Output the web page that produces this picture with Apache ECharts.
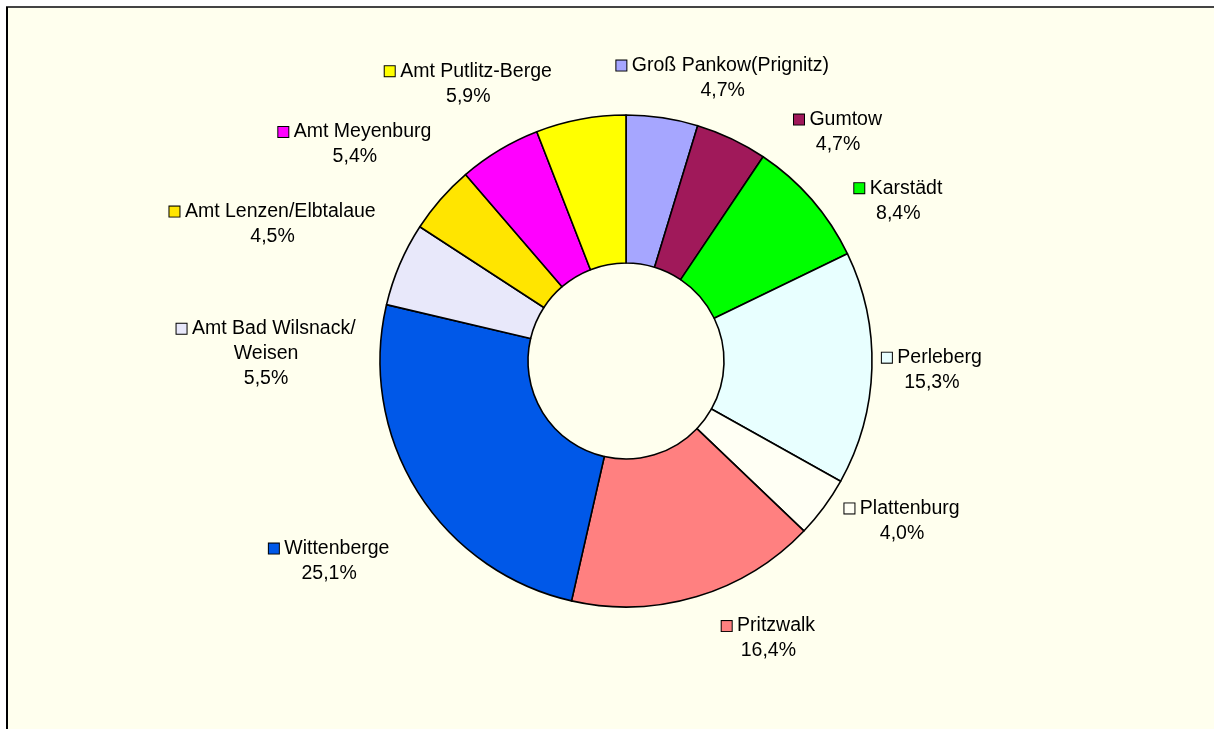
<!DOCTYPE html>
<html lang="de">
<head>
  <meta charset="UTF-8">
  <title>Prignitz Anteile</title>
  <style>html, body { margin: 0; padding: 0; background: #fff; }</style>
</head>
<body>
  <div id="main" style="width:1214px;height:729px;"></div>
  <script src="https://cdn.jsdelivr.net/npm/echarts@6/dist/echarts.min.js"></script>
  <script>
  var names = ['Groß Pankow(Prignitz)', 'Gumtow', 'Karstädt', 'Perleberg', 'Plattenburg', 'Pritzwalk',
    'Wittenberge', 'Amt Bad Wilsnack/\nWeisen', 'Amt Lenzen/Elbtalaue', 'Amt Meyenburg', 'Amt Putlitz-Berge']
  var shares = [4.7, 4.7, 8.4, 15.3, 4.0, 16.4, 25.1, 5.5, 4.5, 5.4, 5.9]
  var colors = ['#A6A6FF', '#A0195A', '#00FF00', '#E8FFFF', '#FFFFF4', '#FF8080',
    '#0058E8', '#E8E8FA', '#FFE500', '#FF00FF', '#FFFF00']
  // label placement: [angle shift from slice middle (deg), distance from centre]
  var labelPlace = [[10.4, 299], [17.4, 312], [10.5, 316], [0, 306], [-6.4, 319], [-10.4, 312],
    [-2, 358], [-22, 360], [-20, 379], [-20.4, 347], [-19, 319]]

  var cx = 626, cy = 361
  var bg = '#FFFFEE'
  var font = '"Liberation Sans", Arial, sans-serif'

  var total = shares.reduce(function (a, b) { return a + b }, 0)
  var mids = []
  var acc = 0
  shares.forEach(function (v) {
    mids.push((acc + v / 2) / total * 360)
    acc += v
  })

  var rich = {
    n: { fontSize: 19.5, lineHeight: 25, color: '#000', fontFamily: font },
    p: { fontSize: 19.5, lineHeight: 25, color: '#000', fontFamily: font }
  }
  colors.forEach(function (c, i) {
    rich['m' + i] = { width: 10, height: 10, backgroundColor: c, borderColor: '#000', borderWidth: 1 }
  })

  var data = names.map(function (n, i) {
    return { name: n, value: shares[i], itemStyle: { color: colors[i] } }
  })

  var myChart = echarts.init(document.getElementById('main'))
  var option = {
    backgroundColor: '#fff',
    animation: false,
    graphic: [
      { type: 'rect', z: -10, shape: { x: 7, y: 8, width: 1207, height: 721 }, style: { fill: bg } },
      { type: 'line', z: -9, shape: { x1: 6, y1: 7, x2: 1214, y2: 7 }, style: { stroke: '#444', lineWidth: 2 } },
      { type: 'line', z: -9, shape: { x1: 7, y1: 7, x2: 7, y2: 729 }, style: { stroke: '#000', lineWidth: 2 } }
    ],
    series: [{
      type: 'pie',
      center: [cx, cy],
      radius: [98, 246],
      startAngle: 90,
      clockwise: true,
      avoidLabelOverlap: false,
      data: data,
      itemStyle: { borderColor: '#000', borderWidth: 1.6 },
      emphasis: { disabled: true },
      labelLine: { show: false },
      label: {
        show: true,
        position: 'outside',
        color: '#000',
        fontFamily: font,
        fontSize: 19.5,
        lineHeight: 25,
        formatter: function (p) {
          var i = p.dataIndex
          var lines = p.name.split('\n')
          var s = '{m' + i + '|} {n|' + lines[0] + '}'
          for (var k = 1; k < lines.length; k++) s += '\n{n|' + lines[k] + '}'
          return s + '\n{p|' + shares[i].toFixed(1).replace('.', ',') + '%}'
        },
        rich: rich
      },
      labelLayout: function (p) {
        var i = p.dataIndex
        var a = (mids[i] + labelPlace[i][0]) * Math.PI / 180
        var r = labelPlace[i][1]
        return {
          x: cx + r * Math.sin(a),
          y: cy - r * Math.cos(a),
          align: 'center',
          verticalAlign: 'middle'
        }
      }
    }]
  }
  myChart.setOption(option)
  </script>
</body>
</html>
